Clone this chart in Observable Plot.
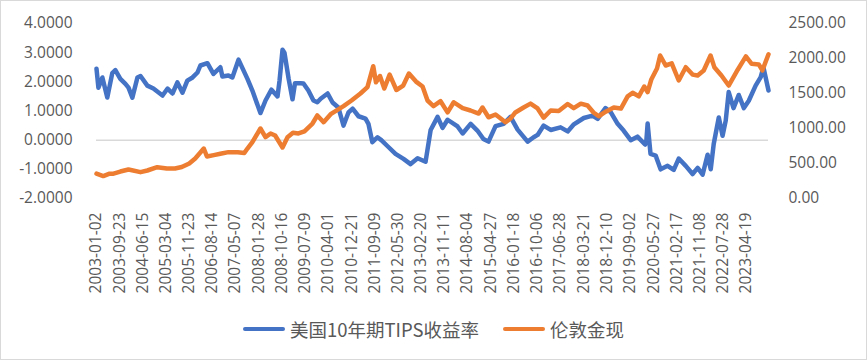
<!DOCTYPE html>
<html><head><meta charset="utf-8">
<script src="https://cdn.jsdelivr.net/npm/d3@7"></script>
<script src="https://cdn.jsdelivr.net/npm/@observablehq/plot@0.6"></script>
<style>
html,body{margin:0;padding:0;background:#fff;}
#chart{position:relative;width:867px;height:360px;box-sizing:border-box;border:1px solid #d9d9d9;overflow:hidden;background:#fff;}
#plot{position:absolute;left:0;top:0;}
#legend{position:absolute;left:0;right:0;top:316px;height:24px;line-height:24px;display:flex;justify-content:center;align-items:center;font-family:"Noto Sans CJK SC";font-size:18.5px;color:#595959;}
.item{display:flex;align-items:center;margin:0 12px;}
.swatch{width:42px;height:4px;border-radius:2px;margin-right:5px;}
</style></head><body>
<div id="chart"><div id="plot"></div><div id="legend"></div></div>
<script>
// ---- data ----
const seriesNames = ["美国10年期TIPS收益率", "伦敦金现"];
const seriesColors = ["#4472C4", "#ED7D31"];

const tipsDates = ["2003-01-02","2003-01-24","2003-03-10","2003-05-05","2003-07-01","2003-08-05","2003-10-01","2003-11-28","2004-01-02","2004-02-15","2004-04-13","2004-05-18","2004-08-04","2004-10-12","2005-01-24","2005-03-23","2005-05-18","2005-07-13","2005-09-09","2005-11-03","2006-01-02","2006-02-27","2006-04-01","2006-06-20","2006-08-28","2006-11-15","2006-12-08","2007-02-15","2007-04-01","2007-06-10","2007-09-20","2007-11-15","2008-02-15","2008-04-13","2008-06-20","2008-08-28","2008-09-20","2008-10-24","2008-11-15","2009-01-02","2009-02-15","2009-03-15","2009-05-18","2009-06-20","2009-08-15","2009-10-12","2009-11-25","2010-01-02","2010-03-23","2010-05-18","2010-07-23","2010-09-20","2010-11-15","2011-01-02","2011-03-10","2011-05-29","2011-07-01","2011-08-15","2011-10-12","2011-11-25","2012-02-02","2012-05-05","2012-08-04","2012-10-24","2013-01-12","2013-04-13","2013-06-10","2013-08-28","2013-10-24","2013-12-20","2014-04-13","2014-06-10","2014-09-09","2014-11-25","2015-02-02","2015-04-01","2015-06-20","2015-09-20","2015-12-08","2016-02-27","2016-06-20","2016-08-28","2016-10-12","2016-12-20","2017-03-10","2017-07-01","2017-09-20","2017-11-25","2018-03-23","2018-07-01","2018-08-28","2018-11-25","2019-01-24","2019-04-13","2019-06-20","2019-09-09","2019-11-25","2020-02-20","2020-03-05","2020-03-20","2020-04-22","2020-06-20","2020-08-15","2020-11-03","2021-01-12","2021-03-10","2021-05-29","2021-08-15","2021-10-12","2021-12-08","2022-02-02","2022-03-10","2022-04-13","2022-06-10","2022-07-23","2022-08-28","2022-10-01","2022-11-25","2023-01-24","2023-03-23","2023-05-18","2023-08-04","2023-10-01","2023-11-01","2023-12-29"];
const tipsValues = [2.45,1.80,2.15,1.46,2.30,2.40,2.10,1.93,1.80,1.46,2.15,2.20,1.87,1.77,1.53,1.77,1.60,1.98,1.63,2.04,2.15,2.32,2.56,2.64,2.27,2.50,2.18,2.22,2.15,2.76,2.10,1.70,0.93,1.36,1.73,1.50,2.04,3.10,3.00,2.10,1.40,1.95,1.95,1.94,1.70,1.36,1.30,1.42,1.60,1.29,1.12,0.50,0.95,1.08,0.82,0.74,0.56,-0.07,0.10,0.00,-0.20,-0.47,-0.64,-0.82,-0.62,-0.74,0.35,0.80,0.42,0.70,0.47,0.23,0.56,0.33,0.04,-0.05,0.48,0.56,0.80,0.36,-0.05,0.10,0.18,0.50,0.35,0.44,0.30,0.53,0.76,0.84,0.73,1.10,0.96,0.56,0.33,0.00,0.12,-0.15,-0.05,0.57,-0.47,-0.53,-1.00,-0.88,-1.02,-0.63,-0.88,-1.16,-0.95,-1.18,-0.50,-1.00,-0.13,0.78,0.15,0.67,1.65,1.10,1.55,1.10,1.35,1.87,2.16,2.50,1.70];

const goldDates = ["2003-01-02","2003-03-20","2003-06-01","2003-07-15","2003-10-01","2004-01-02","2004-05-18","2004-08-04","2004-11-25","2005-03-15","2005-06-15","2005-09-01","2005-11-25","2006-02-01","2006-05-10","2006-06-15","2006-09-01","2006-11-15","2007-02-15","2007-06-01","2007-08-15","2007-09-20","2007-11-15","2008-02-15","2008-04-13","2008-06-10","2008-08-01","2008-10-24","2008-12-20","2009-02-20","2009-04-24","2009-07-01","2009-10-01","2009-11-25","2010-02-05","2010-05-01","2010-09-20","2010-12-20","2011-04-01","2011-06-20","2011-08-25","2011-09-25","2011-11-10","2011-12-29","2012-02-28","2012-05-15","2012-08-01","2012-10-05","2012-12-25","2013-03-10","2013-05-05","2013-07-12","2013-10-01","2013-12-20","2014-02-28","2014-06-10","2014-09-08","2014-12-10","2015-01-22","2015-04-01","2015-06-20","2015-10-12","2015-12-10","2016-02-01","2016-05-05","2016-07-23","2016-10-12","2016-12-20","2017-03-10","2017-06-10","2017-09-20","2017-11-28","2018-02-17","2018-05-05","2018-07-12","2018-09-09","2018-11-28","2019-02-28","2019-05-20","2019-08-05","2019-10-01","2019-12-10","2020-02-10","2020-03-20","2020-05-01","2020-07-05","2020-08-10","2020-10-12","2020-12-20","2021-03-10","2021-05-29","2021-08-15","2021-10-12","2021-12-20","2022-03-08","2022-04-20","2022-07-10","2022-10-01","2023-01-12","2023-04-15","2023-06-20","2023-09-09","2023-10-20","2023-12-29"];
const goldValues = [355,320,355,355,385,415,376,400,447,430,429,450,500,571,714,600,620,640,662,662,650,714,805,1000,876,929,900,729,876,940,929,960,1071,1186,1090,1210,1320,1400,1500,1590,1890,1660,1750,1571,1770,1550,1614,1785,1670,1600,1400,1320,1390,1230,1375,1290,1257,1214,1300,1160,1200,1090,1143,1229,1300,1355,1286,1155,1257,1250,1350,1290,1355,1329,1229,1175,1240,1300,1285,1460,1510,1460,1600,1520,1700,1857,2043,1900,1930,1686,1876,1770,1757,1829,2043,1876,1757,1614,1840,2030,1924,1915,1829,2060];

const xTickLabels = ["2003-01-02","2003-09-23","2004-06-15","2005-03-04","2005-11-23","2006-08-14","2007-05-07","2008-01-28","2008-10-16","2009-07-09","2010-04-01","2010-12-21","2011-09-09","2012-05-30","2013-02-20","2013-11-11","2014-08-04","2015-04-27","2016-01-18","2016-10-06","2017-06-28","2018-03-21","2018-12-10","2019-09-02","2020-05-27","2021-02-17","2021-11-08","2022-07-28","2023-04-19"];
const leftTicks = [-2, -1, 0, 1, 2, 3, 4];
const rightTicks = [0, 500, 1000, 1500, 2000, 2500];
const leftDomain = [-2, 4];
const rightDomain = [0, 2500];
const xDomain = ["2003-01-02", "2023-12-29"];

// ---- build ----
const parse = d3.utcParse("%Y-%m-%d");
const fmt = d3.utcFormat("%Y-%m-%d");
const toLeft = g => leftDomain[0] + (g - rightDomain[0]) * (leftDomain[1] - leftDomain[0]) / (rightDomain[1] - rightDomain[0]);
const toRight = v => rightDomain[0] + (v - leftDomain[0]) * (rightDomain[1] - rightDomain[0]) / (leftDomain[1] - leftDomain[0]);

const tips = tipsDates.map((d, i) => ({date: parse(d), v: tipsValues[i]}));
const gold = goldDates.map((d, i) => ({date: parse(d), v: toLeft(goldValues[i])}));

const chart = Plot.plot({
  width: 865,
  height: 300,
  marginTop: 22,
  marginLeft: 95,
  marginRight: 98,
  marginBottom: 103,
  style: {fontFamily: "'Open Sans'", fontSize: "15.5px", color: "#595959", background: "transparent"},
  x: {type: "utc", domain: xDomain.map(parse)},
  y: {domain: leftDomain},
  marks: [
    Plot.ruleY([0], {stroke: "#d9d9d9", strokeWidth: 1.5}),
    Plot.axisY(leftTicks, {anchor: "left", label: null, tickSize: 0, tickPadding: 24, tickFormat: d => d.toFixed(4)}),
    Plot.axisY(rightTicks.map(toLeft), {anchor: "right", label: null, tickSize: 0, tickPadding: 20, tickFormat: d => toRight(d).toFixed(2)}),
    Plot.axisX(xTickLabels.map(parse), {anchor: "bottom", label: null, tickSize: 0, tickPadding: 14, tickRotate: -90, tickFormat: fmt}),
    Plot.line(tips, {x: "date", y: "v", stroke: seriesColors[0], strokeWidth: 4.5, strokeLinejoin: "round", strokeLinecap: "round"}),
    Plot.line(gold, {x: "date", y: "v", stroke: seriesColors[1], strokeWidth: 4.5, strokeLinejoin: "round", strokeLinecap: "round"})
  ]
});
document.getElementById("plot").appendChild(chart);

const legend = document.getElementById("legend");
seriesNames.forEach((name, i) => {
  const item = document.createElement("div");
  item.className = "item";
  const sw = document.createElement("span");
  sw.className = "swatch";
  sw.style.background = seriesColors[i];
  const tx = document.createElement("span");
  tx.textContent = name;
  item.appendChild(sw);
  item.appendChild(tx);
  legend.appendChild(item);
});
</script>
</body></html>
